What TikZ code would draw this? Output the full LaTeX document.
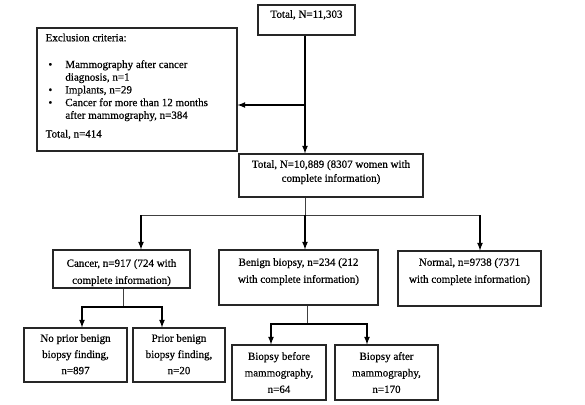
\documentclass[tikz,border=0pt]{standalone}
\usepackage{fontspec}
\setmainfont{Liberation Serif}[FakeBold=0.4]
\usetikzlibrary{positioning}

\newcommand{\exbullet}{\hspace*{2.8pt}\textbullet\hspace*{13pt}}
\newcommand{\exhang}{\hspace*{19.7pt}}

\begin{document}
\begin{tikzpicture}[x=1pt, y=-1pt, >=latex,
    box/.style={draw=black!85, line width=1.1pt, inner sep=0pt},
    txt/.style={inner sep=0pt, align=center, font=\fontsize{11}{17}\selectfont},
    arr/.style={->, line width=1.6pt},
    stem/.style={line width=1pt, black!75}]

  %% ---- Frame (reference pixel grid) ----
  \useasboundingbox (0,0) rectangle (585,404);

  %% ---- Top: whole cohort ----
  \node[box, minimum width=97pt, minimum height=30pt] (cohort) at (306.5,20) {};
  \node[txt, below=5.5pt of cohort.north] (cohorttext) {Total, N=11,303};

  %% ---- Exclusions ----
  \node[box, minimum width=200pt, minimum height=123pt] (excluded) at (137,89.5) {};
  \node[txt, align=left, font=\fontsize{11}{12.7}\selectfont,
        below right=6pt and 9pt of excluded.north west] (excludedtext)
    {Exclusion criteria:\\[14pt]
     \exbullet Mammography after cancer\\
     \exhang diagnosis, n=1\\
     \exbullet Implants, n=29\\
     \exbullet Cancer for more than 12 months\\
     \exhang after mammography, n=384\\[6pt]
     Total, n=414};

  %% ---- Included ----
  \node[box, minimum width=184pt, minimum height=43pt] (included) at (331,175.5) {};
  \node[txt, font=\fontsize{11}{14}\selectfont, below=6.5pt of included.north] (includedtext)
    {Total, N=10,889 (8307 women with\\complete information)};

  %% ---- Outcome groups ----
  \node[box, minimum width=137pt, minimum height=38pt] (cancer) at (121.5,269) {};
  \node[txt, below=9.5pt of cancer.north] (cancertext)
    {Cancer, n=917 (724 with\\complete information)};

  \node[box, minimum width=159pt, minimum height=55pt] (benign) at (298.5,277.5) {};
  \node[txt, below=8.5pt of benign.north] (benigntext)
    {Benign biopsy, n=234 (212\\with complete information)};

  \node[box, minimum width=143pt, minimum height=55pt] (normal) at (469.5,278.5) {};
  \node[txt, below=7.5pt of normal.north] (normaltext)
    {Normal, n=9738 (7371\\with complete information)};

  %% ---- Cancer split ----
  \node[box, minimum width=103pt, minimum height=54pt] (noprior) at (75.5,355) {};
  \node[txt, font=\fontsize{11}{16.2}\selectfont, below=6.5pt of noprior.north] (noprirtext)
    {No prior benign\\biopsy finding,\\n=897};

  \node[box, minimum width=92pt, minimum height=54pt] (prior) at (179,355) {};
  \node[txt, font=\fontsize{11}{16.2}\selectfont, below=6.5pt of prior.north] (priortext)
    {Prior benign\\biopsy finding,\\n=20};

  %% ---- Benign split ----
  \node[box, minimum width=94pt, minimum height=55pt] (before) at (279,372.5) {};
  \node[txt, font=\fontsize{11}{16.5}\selectfont, below=7.5pt of before.north] (beforetext)
    {Biopsy before\\mammography,\\n=64};

  \node[box, minimum width=103pt, minimum height=55pt] (after) at (386.5,372.5) {};
  \node[txt, font=\fontsize{11}{16.5}\selectfont, below=7.5pt of after.north] (aftertext)
    {Biopsy after\\mammography,\\n=170};

  %% ---- Junctions ----
  \coordinate (jex)   at (305,105);
  \coordinate (jmain) at (305,215);
  \coordinate (jl)    at (141,215);
  \coordinate (jr)    at (480,215);
  \coordinate (jc)    at (123,307);
  \coordinate (jca)   at (82,307);
  \coordinate (jcb)   at (162,307);
  \coordinate (jb)    at (307,324);
  \coordinate (jba)   at (271,324);
  \coordinate (jbb)   at (367,324);

  %% ---- Connectors ----
  \draw[arr] (cohort.south -| jex) -- (jex |- included.north);
  \draw[arr] (jex) -- (jex -| excluded.east);

  \draw[stem] (included.south -| jmain) -- (jmain);
  \draw[stem] (jl) -- (jr);
  \draw[arr] (jl) -- (jl |- cancer.north);
  \draw[arr] (jmain) -- (jmain |- benign.north);
  \draw[arr] (jr) -- (jr |- normal.north);

  \draw[stem] (cancer.south -| jc) -- (jc);
  \draw[arr] (jc) -- (jca) -- (jca |- noprior.north);
  \draw[arr] (jc) -- (jcb) -- (jcb |- prior.north);

  \draw[stem] (benign.south -| jb) -- (jb);
  \draw[arr] (jb) -- (jba) -- (jba |- before.north);
  \draw[arr] (jb) -- (jbb) -- (jbb |- after.north);

\end{tikzpicture}
\end{document}
